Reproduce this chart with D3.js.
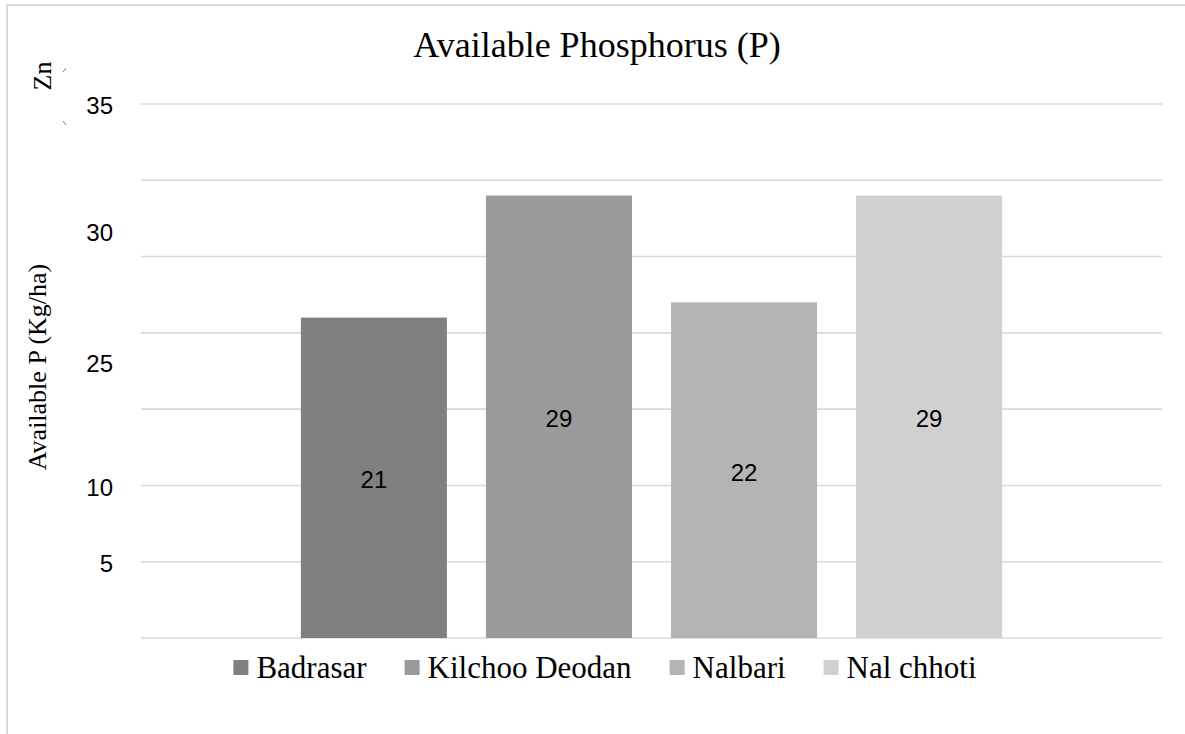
<!DOCTYPE html>
<html>
<head>
<meta charset="utf-8">
<script src="https://cdn.jsdelivr.net/npm/d3@7"></script>
<style>
  html, body { margin: 0; padding: 0; background: #ffffff; }
  svg { display: block; }
</style>
</head>
<body>
<svg id="chart" width="1185" height="734"></svg>
<script>
// ---- data ----
const category = ["Available P"];
const seriesNames = ["Badrasar", "Kilchoo Deodan", "Nalbari", "Nal chhoti"];
const seriesValues = [21, 29, 22, 29];
const seriesColors = ["#808080", "#9a9a9a", "#b4b4b4", "#d0d0d0"];
const gridValues = [0, 5, 10, 15, 20, 25, 30, 35];
const tickLabels = ["35", "30", "25", "10", "5"];
const tickLabelAt = [35, 26.7, 18.1, 10, 5];
const chartTitle = "Available Phosphorus (P)";
const yTitle = "Available P (Kg/ha)";
const extraLabel = "Zn";

// ---- layout ----
const svg = d3.select("#chart");
const plot = { left: 141, right: 1162, top: 104, bottom: 638 };

// outer frame
svg.append("rect")
  .attr("x", 7).attr("y", 5)
  .attr("width", 1300).attr("height", 900)
  .attr("fill", "none").attr("stroke", "#d9d9d9").attr("stroke-width", 2);

const y = d3.scaleLinear().domain([0, 35]).range([plot.bottom, plot.top]);
const x0 = d3.scaleBand().domain(category).range([plot.left, plot.right])
  .paddingInner(0).paddingOuter(0.228);
const x1 = d3.scaleBand().domain(seriesNames).range([0, x0.bandwidth()])
  .paddingInner(0.211).paddingOuter(0);

// gridlines
svg.append("g").selectAll("line").data(gridValues).join("line")
  .attr("x1", plot.left).attr("x2", plot.right)
  .attr("y1", d => y(d)).attr("y2", d => y(d))
  .attr("stroke", "#d9d9d9").attr("stroke-width", 1.6);

// tick labels (as drawn in the reference)
svg.append("g").selectAll("text").data(tickLabels).join("text")
  .attr("x", 113)
  .attr("y", (d, i) => y(tickLabelAt[i]) + 2)
  .attr("dy", "0.35em")
  .attr("text-anchor", "end")
  .attr("font-family", "Liberation Sans, Arial, sans-serif")
  .attr("font-size", 24)
  .attr("fill", "#000")
  .text(d => d);

// bars
const g = svg.append("g").attr("transform", `translate(${x0(category[0])},0)`);
g.selectAll("rect").data(seriesValues).join("rect")
  .attr("x", (d, i) => x1(seriesNames[i]))
  .attr("width", x1.bandwidth())
  .attr("y", d => y(d))
  .attr("height", d => y(0) - y(d))
  .attr("fill", (d, i) => seriesColors[i]);

// data labels
g.selectAll("text").data(seriesValues).join("text")
  .attr("x", (d, i) => x1(seriesNames[i]) + x1.bandwidth() / 2)
  .attr("y", d => (y(d) + y(0)) / 2 + 2)
  .attr("dy", "0.35em")
  .attr("text-anchor", "middle")
  .attr("font-family", "Liberation Sans, Arial, sans-serif")
  .attr("font-size", 24)
  .attr("fill", "#000")
  .text(d => d);

// title
svg.append("text")
  .attr("x", 597).attr("y", 57)
  .attr("text-anchor", "middle")
  .attr("font-family", "Liberation Serif, Times New Roman, serif")
  .attr("font-size", 36)
  .attr("fill", "#000")
  .text(chartTitle);

// y axis title
svg.append("text")
  .attr("transform", "translate(46,367) rotate(-90)")
  .attr("text-anchor", "middle")
  .attr("font-family", "Liberation Serif, Times New Roman, serif")
  .attr("font-size", 26)
  .attr("fill", "#000")
  .text(yTitle);

// stray "Zn" label
svg.append("text")
  .attr("transform", "translate(51,76) rotate(-90)")
  .attr("text-anchor", "middle")
  .attr("font-family", "Liberation Serif, Times New Roman, serif")
  .attr("font-size", 26)
  .attr("fill", "#000")
  .text(extraLabel);

// tiny stray marks
svg.append("line").attr("x1", 63).attr("y1", 72).attr("x2", 66).attr("y2", 68)
  .attr("stroke", "#777").attr("stroke-width", 1);
svg.append("line").attr("x1", 63).attr("y1", 121).attr("x2", 66).attr("y2", 125)
  .attr("stroke", "#777").attr("stroke-width", 1);

// legend
const legend = svg.append("g");
const items = legend.selectAll("g").data(seriesNames).join("g");
items.append("rect")
  .attr("width", 15).attr("height", 15)
  .attr("y", -13)
  .attr("fill", (d, i) => seriesColors[i]);
items.append("text")
  .attr("x", 23).attr("y", 0)
  .attr("font-family", "Liberation Serif, Times New Roman, serif")
  .attr("font-size", 31)
  .attr("fill", "#000")
  .attr("dy", "0.33em")
  .attr("y", -5)
  .text(d => d);
let widths = [];
items.each(function() {
  widths.push(23 + d3.select(this).select("text").node().getComputedTextLength());
});
const gap = 38;
const total = d3.sum(widths) + gap * (widths.length - 1);
let cx = 605 - total / 2;
items.attr("transform", (d, i) => {
  const t = `translate(${cx},673)`;
  cx += widths[i] + gap;
  return t;
});
</script>
</body>
</html>
